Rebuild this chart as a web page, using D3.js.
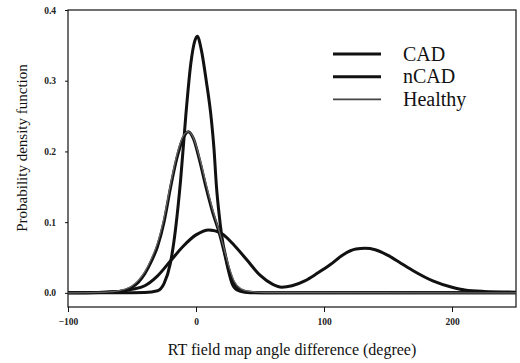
<!DOCTYPE html>
<html><head><meta charset="utf-8">
<script src="https://cdn.jsdelivr.net/npm/d3@7"></script>
<style>body{margin:0;background:#fff}svg{display:block}</style>
</head><body>
<svg id="c" width="520" height="363"></svg>
<script>
// Data: [angle difference, density]
const cadNarrow = [[-100,0],[-60,0],[-40,0.0005],[-30,0.003],[-25,0.013],[-20,0.042],[-16,0.09],[-12,0.16],[-8,0.25],[-4,0.325],[-1,0.356],[1,0.363],[4,0.345],[8,0.3],[12,0.245],[14,0.205],[16,0.15],[18,0.112],[20,0.082],[24,0.045],[28,0.02],[32,0.008],[36,0.003],[45,0.0005],[60,0],[250,0]];
const ncadBimodal = [[-100,0],[-80,0.0005],[-60,0.002],[-50,0.005],[-40,0.01],[-30,0.024],[-20,0.045],[-10,0.066],[0,0.082],[10,0.089],[20,0.084],[30,0.067],[40,0.046],[50,0.025],[60,0.012],[67,0.008],[75,0.01],[85,0.017],[95,0.028],[105,0.04],[115,0.054],[125,0.062],[132,0.063],[140,0.061],[150,0.053],[160,0.042],[170,0.031],[185,0.017],[200,0.008],[210,0.004],[225,0.002],[250,0.001]];
const ncadWide = [[-100,0],[-70,0.001],[-60,0.002],[-50,0.008],[-45,0.015],[-40,0.027],[-35,0.044],[-30,0.066],[-25,0.1],[-20,0.148],[-15,0.19],[-10,0.219],[-6,0.228],[-2,0.218],[3,0.186],[8,0.148],[13,0.114],[18,0.086],[22,0.058],[25,0.034],[28,0.014],[32,0.004],[38,0.001],[50,0],[250,0]];
const healthy = [[-100,0],[-70,0.001],[-60,0.003],[-50,0.01],[-45,0.018],[-40,0.03],[-35,0.048],[-30,0.071],[-25,0.106],[-20,0.153],[-15,0.195],[-10,0.222],[-6,0.228],[-2,0.219],[3,0.19],[8,0.153],[13,0.118],[18,0.088],[22,0.062],[26,0.036],[30,0.016],[35,0.006],[42,0.002],[55,0.0005],[250,0]];

const legendNames = ["CAD","nCAD","Healthy"];
const xTicks = [-100,0,100,200];
const yTicks = [0.0,0.1,0.2,0.3,0.4];

const svg = d3.select("#c");
const x = d3.scaleLinear().domain([-100,250]).range([68,516]);
const y = d3.scaleLinear().domain([-0.02,0.4]).range([307,10]);
const font = "'Liberation Serif','Times New Roman',serif";

// frame
svg.append("rect").attr("x",68).attr("y",10).attr("width",448).attr("height",297)
  .attr("fill","none").attr("stroke","#111").attr("stroke-width",1.2);

// axes
const xa = svg.append("g").attr("transform","translate(0,307)")
  .call(d3.axisBottom(x).tickValues(xTicks).tickSize(5).tickFormat(d3.format("d")));
const ya = svg.append("g").attr("transform","translate(68,0)")
  .call(d3.axisLeft(y).tickValues(yTicks).tickSize(3).tickFormat(d3.format(".1f")));
[xa,ya].forEach(g=>{
  g.select(".domain").remove();
  g.selectAll("line").attr("stroke","#111");
  g.selectAll("text").attr("font-family",font).attr("font-size",9.5).attr("font-weight","bold").attr("fill","#222");
});
xa.selectAll("text").attr("dy","1.1em");
ya.selectAll("text").attr("dx","-6");

// curves
const line = d3.line().x(d=>x(d[0])).y(d=>y(d[1])).curve(d3.curveMonotoneX);
const g = svg.append("g");
g.append("path").datum(ncadBimodal).attr("d",line).attr("fill","none").attr("stroke","#111").attr("stroke-width",3);
g.append("path").datum(ncadWide).attr("d",line).attr("fill","none").attr("stroke","#111").attr("stroke-width",3);
g.append("path").datum(cadNarrow).attr("d",line).attr("fill","none").attr("stroke","#111").attr("stroke-width",3);
g.append("path").datum(healthy).attr("d",line).attr("fill","none").attr("stroke","#666").attr("stroke-width",1.3);

// legend
const leg = svg.append("g");
legendNames.forEach((n,i)=>{
  const yy = 54 + i*22.7;
  leg.append("line").attr("x1",333).attr("x2",381).attr("y1",yy).attr("y2",yy)
    .attr("stroke", i<2 ? "#111" : "#444").attr("stroke-width", i<2 ? 3 : 1.6);
  leg.append("text").attr("x",403).attr("y",yy+6.5).text(n)
    .attr("font-family",font).attr("font-size",20).attr("fill","#111");
});

// axis titles
svg.append("text").attr("x",292).attr("y",355).attr("text-anchor","middle")
  .attr("font-family",font).attr("font-size",16).attr("fill","#111")
  .text("RT field map angle difference (degree)");
svg.append("text").attr("transform","translate(27,148) rotate(-90)").attr("text-anchor","middle")
  .attr("font-family",font).attr("font-size",15).attr("fill","#111")
  .text("Probability density function");
</script>
</body></html>
